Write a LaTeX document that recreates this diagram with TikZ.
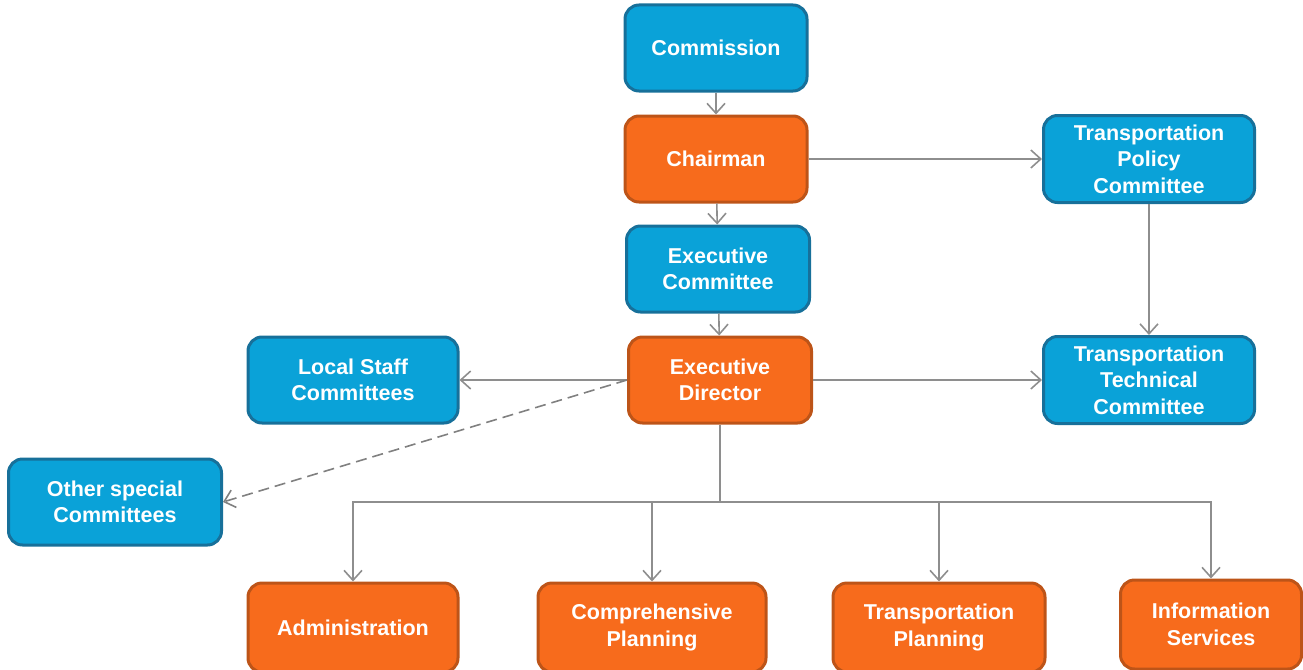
\documentclass[tikz,border=0pt]{standalone}
\usepackage{fontspec}
\setmainfont{Liberation Sans}
\usetikzlibrary{arrows.meta}
\definecolor{bfill}{HTML}{0AA2D8}
\definecolor{bdraw}{HTML}{17709A}
\definecolor{ofill}{HTML}{F76B1C}
\definecolor{odraw}{HTML}{BD5418}
\definecolor{lgray}{HTML}{8E8E8E}
\begin{document}
\begin{tikzpicture}[x=1pt,y=-1pt,
  box/.style={rounded corners=14pt, line width=3pt, text=white,
    font=\fontsize{21.5}{26.5}\selectfont\bfseries, align=center, inner sep=0pt,
    minimum height=86pt},
  bluebox/.style={box, fill=bfill, draw=bdraw},
  orangebox/.style={box, fill=ofill, draw=odraw},
  conn/.style={draw=lgray, line width=1.6pt, -{Straight Barb[length=10pt,width=18pt,line width=1.6pt]}},
]
\useasboundingbox (0,0) rectangle (1303,669);
\node[bluebox, minimum width=182pt] (comm) at (716,48) {Commission};
\node[orangebox, minimum width=182pt] (chair) at (716,159) {Chairman};
\node[bluebox, minimum width=183pt] (exc) at (718,269) {Executive\\Committee};
\node[orangebox, minimum width=183pt] (exd) at (720,380) {Executive\\Director};
\node[bluebox, minimum width=210pt] (lsc) at (353,380) {Local Staff\\Committees};
\node[bluebox, minimum width=213pt] (osc) at (115,502) {Other special\\Committees};
\node[bluebox, minimum width=211pt, minimum height=87pt] (tpc) at (1149,159) {Transportation\\Policy\\Committee};
\node[bluebox, minimum width=211pt, minimum height=87pt] (ttc) at (1149,380) {Transportation\\Technical\\Committee};
\node[orangebox, minimum width=210pt, minimum height=89pt] (adm) at (353,627.5) {Administration};
\node[orangebox, minimum width=228pt, minimum height=89pt] (cp) at (652,627.5) {Comprehensive\\Planning};
\node[orangebox, minimum width=212pt, minimum height=89pt] (tp) at (939,627.5) {Transportation\\Planning};
\node[orangebox, minimum width=181pt, minimum height=89pt] (is) at (1211,624.5) {Information\\Services};
\coordinate (bus) at (720,502);
\draw[conn] (comm) -- (chair);
\draw[conn] (chair) -- (exc);
\draw[conn] (exc) -- (exd);
\draw[conn] (chair) -- (tpc);
\draw[conn] (tpc) -- (ttc);
\draw[conn] (exd) -- (ttc);
\draw[conn] (exd) -- (lsc);
\draw[conn, draw=gray, dash pattern=on 11pt off 6pt] (exd.west) -- (osc.east);
\draw[draw=lgray, line width=1.6pt] (exd.south) -- (bus);
\draw[conn] (bus) -| (adm.north);
\draw[conn] (bus) -| (cp.north);
\draw[conn] (bus) -| (tp.north);
\draw[conn] (bus) -| (is.north);
\end{tikzpicture}
\end{document}
